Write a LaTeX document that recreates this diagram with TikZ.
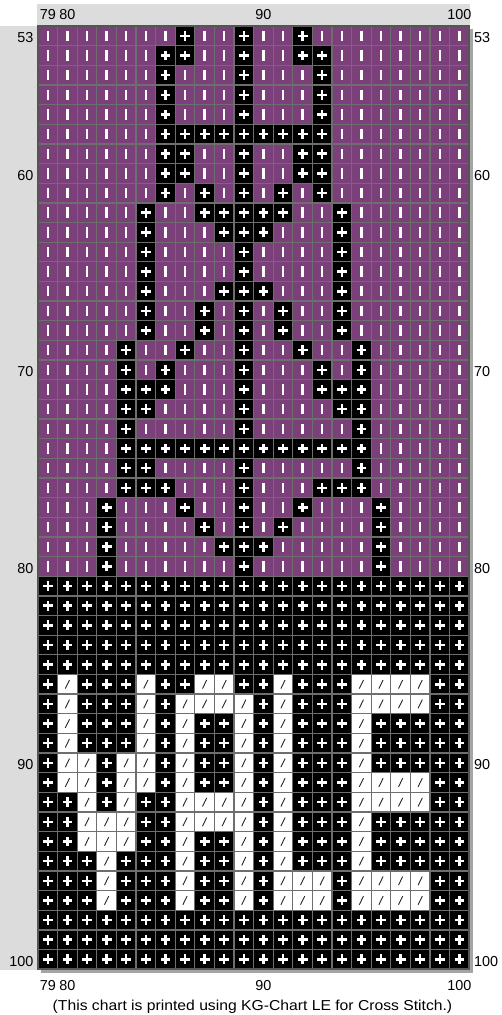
\documentclass[tikz,border=0pt]{standalone}
\usepackage{fontspec}
\setmainfont{Liberation Sans}
\definecolor{plum}{RGB}{123,63,122}
\definecolor{bandc}{RGB}{220,220,220}
\definecolor{gridc}{RGB}{110,110,110}
\definecolor{framec}{RGB}{85,85,85}
\definecolor{shadowc}{RGB}{165,165,165}
\def\XO{38}
\def\YO{26}
\def\CW{19.6}
\def\CH{19.65}
\tikzset{
  lbl/.style={font=\fontsize{14.4}{16}\selectfont, inner sep=0pt, text=black},
  barmark/.pic={\fill[white] (-1.2,-5.2) rectangle (1.2,5.2);},
  crossmark/.pic={\fill[white] (-4.9,-1.25) rectangle (4.9,1.25);
                  \fill[white] (-1.25,-4.9) rectangle (1.25,4.9);},
  slashmark/.pic={\draw[black!85, line width=0.9] (-2.1,4.3) -- (2.1,-4.3);},
}
\begin{document}
\begin{tikzpicture}[x=1pt,y=-1pt]
\useasboundingbox (0,0) rectangle (501,1015);
\fill[white] (0,0) rectangle (501,1015);
% label bands
\fill[bandc] (37,4) rectangle (470,26);
\fill[bandc] (0,26) rectangle (37,970);
% shadow
\fill[shadowc] (41,29) rectangle ({\XO+22*\CW+3.5},{\YO+48*\CH+3.5});
% colour regions
\fill[plum] (\XO,\YO) rectangle ({\XO+22*\CW},{\YO+28*\CH});
\fill[black] (\XO,{\YO+28*\CH}) rectangle ({\XO+22*\CW},{\YO+48*\CH});
% bars on all purple cells
\foreach \i in {0,...,27}
  \foreach \c in {0,...,21}
    \pic at ({\XO+(\c+0.5)*\CW},{\YO+(\i+0.5)*\CH}) {barmark};
% black stitches in the purple area
\foreach \r/\cl in {53/{7,10,13}, 54/{6,7,10,13,14}, 55/{6,10,14}, 56/{6,10,14},
  57/{6,10,14}, 58/{6,7,8,9,10,11,12,13,14}, 59/{6,7,10,13,14}, 60/{6,7,10,13,14},
  61/{6,8,10,12,14}, 62/{5,8,9,10,11,12,15}, 63/{5,9,10,11,15}, 64/{5,10,15},
  65/{5,10,15}, 66/{5,9,10,11,15}, 67/{5,8,10,12,15}, 68/{5,8,10,12,15},
  69/{4,7,10,13,16}, 70/{4,6,10,14,16}, 71/{4,5,6,10,14,15,16}, 72/{4,5,10,15,16},
  73/{4,10,16}, 74/{4,5,6,7,8,9,10,11,12,13,14,15,16}, 75/{4,5,10,16},
  76/{4,5,6,10,14,15,16}, 77/{3,7,10,13,17}, 78/{3,8,10,12,17}, 79/{3,9,10,11,17},
  80/{3,10,17}}
  \foreach \c in \cl {
    \fill[black] ({\XO+\c*\CW},{\YO+(\r-53)*\CH}) rectangle ++(\CW,\CH);
    \pic at ({\XO+(\c+0.5)*\CW},{\YO+(\r-52.5)*\CH}) {crossmark};
  };
% crosses on all cells of the black area
\foreach \i in {28,...,47}
  \foreach \c in {0,...,21}
    \pic at ({\XO+(\c+0.5)*\CW},{\YO+(\i+0.5)*\CH}) {crossmark};
% white stitches (letters)
\foreach \r/\cl in {86/{1,5,8,9,12,16,17,18,19}, 87/{1,5,7,8,9,10,12,16,17,18,19},
  88/{1,5,7,10,12,16}, 89/{1,5,7,10,12,16}, 90/{1,2,4,5,7,10,12,16},
  91/{1,2,4,5,7,10,12,16,17,18,19}, 92/{2,4,7,8,9,10,12,16,17,18,19},
  93/{2,3,4,7,8,9,10,12,16}, 94/{2,3,4,7,10,12,16}, 95/{3,7,10,12,16},
  96/{3,7,10,12,13,14,16,17,18,19}, 97/{3,7,10,12,13,14,16,17,18,19}}
  \foreach \c in \cl {
    \fill[white] ({\XO+\c*\CW},{\YO+(\r-53)*\CH}) rectangle ++(\CW,\CH);
    \pic at ({\XO+(\c+0.5)*\CW},{\YO+(\r-52.5)*\CH}) {slashmark};
  };
% grid lines
\foreach \c in {1,...,21}
  \draw[gridc, line width=1.3] ({\XO+\c*\CW},\YO) -- ({\XO+\c*\CW},{\YO+48*\CH});
\foreach \i in {1,...,47}
  \draw[gridc, line width=1.3] (\XO,{\YO+\i*\CH}) -- ({\XO+22*\CW},{\YO+\i*\CH});
% frame
\draw[framec, line width=2.4] (\XO,\YO) rectangle ({\XO+22*\CW},{\YO+48*\CH});
% column labels
\foreach \n/\c in {79/0, 80/1, 90/11, 100/21} {
  \node[lbl, anchor=base] (top\n) at ({\XO+(\c+0.5)*\CW},19.5) {\n};
  \node[lbl, anchor=base] (bot\n) at ({\XO+(\c+0.5)*\CW},990) {\n};
}
% row labels
\foreach \r in {53,60,70,80,90,100} {
  \node[lbl, anchor=base east] (left\r) at (33.5,{\YO+(\r-52.5)*\CH+6.9}) {\r};
  \node[lbl, anchor=base west] (right\r) at (474,{\YO+(\r-52.5)*\CH+6.9}) {\r};
}
% caption
\node[lbl, anchor=base] (caption) at (252.5,1010)
  {\scalebox{1.09}[1]{(This chart is printed using KG-Chart LE for Cross Stitch.)}};
\end{tikzpicture}
\end{document}
